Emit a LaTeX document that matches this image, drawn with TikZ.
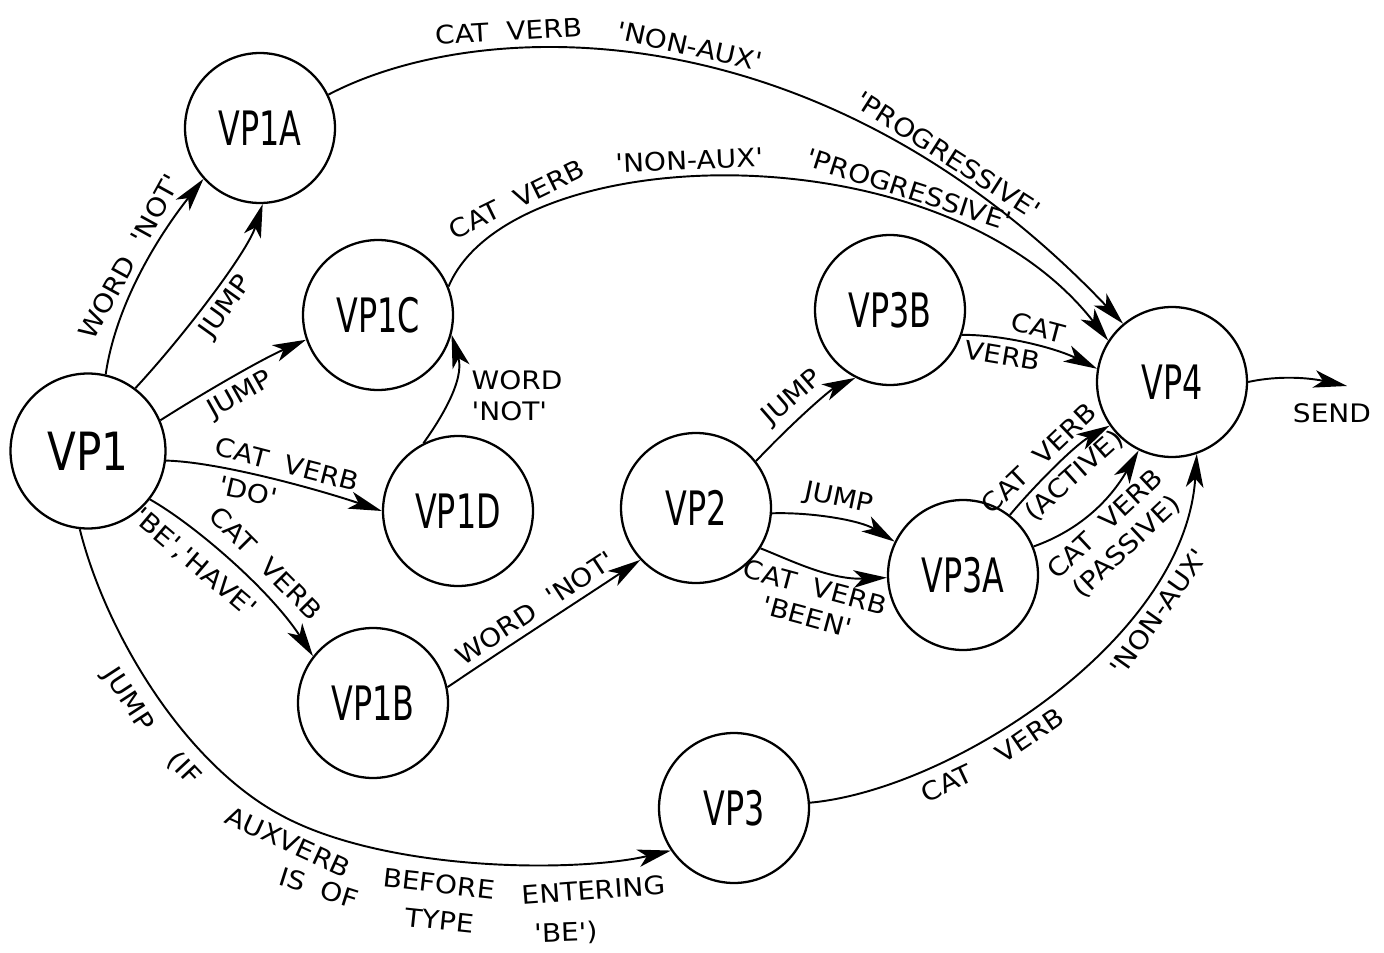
\documentclass[tikz,border=0pt]{standalone}
\usepackage{fontspec}
\usetikzlibrary{arrows.meta}
\newfontfamily\edgefam[FakeStretch=1.1,WordSpace=2]{DejaVu Sans}
\newfontfamily\nodefamA[FakeStretch=0.67]{DejaVu Sans}
\newfontfamily\nodefamB[FakeStretch=0.8]{DejaVu Sans}
\newcommand{\edgefont}{\edgefam\fontsize{14.5}{17.5}\selectfont}
\begin{document}
\begin{tikzpicture}[x=0.02cm,y=-0.02cm,
  st/.style={circle,draw,line width=1.3pt,minimum size=3cm,inner sep=0pt,font=\nodefamA\fontsize{27}{30}\selectfont},
  arr/.style={line width=1.1pt,-{Stealth[length=19pt,width=10pt,inset=5pt]}},
  lab/.style={font=\edgefont,inner sep=1pt,sloped}
]
\useasboundingbox (0,0) rectangle (1384,953);
% states
\node[st,minimum size=3.1cm,font=\nodefamB\fontsize{30}{32}\selectfont] (vp1) at (88,451) {VP1};
\node[st] (vp1a) at (260,128) {VP1A};
\node[st] (vp1c) at (378,315) {VP1C};
\node[st] (vp1d) at (458,511) {VP1D};
\node[st] (vp1b) at (373,703) {VP1B};
\node[st] (vp2) at (696,508) {VP2};
\node[st] (vp3b) at (890,310) {VP3B};
\node[st] (vp3a) at (963,575) {VP3A};
\node[st] (vp4) at (1172,382) {VP4};
\node[st] (vp3) at (734,808) {VP3};
\coordinate (sendend) at (1347,386);
\node[font=\edgefont] (send) at (1332,413) {SEND};
% arcs
\draw[arr] (vp1.77) .. controls (117,297) and (166,226) .. (vp1a.222)
  node[lab,pos=.5,above=3pt]{WORD 'NOT'};
\draw[arr] (vp1.53) .. controls (182,338) and (247,253) .. (vp1a.272)
  node[lab,pos=.5,below=3pt]{JUMP};
\draw[arr] (vp1.23) .. controls (200,395) and (260,360) .. (vp1c.199)
  node[lab,pos=.5,below=3pt]{JUMP};
\draw[arr] (vp1.353) .. controls (220,462) and (320,490) .. (vp1d.180)
  node[lab,pos=.55,above=3pt]{CAT VERB} node[lab,pos=.42,below=3pt]{'DO'};
\draw[arr] (vp1.322) .. controls (195,525) and (270,590) .. (vp1b.142)
  node[lab,pos=.6,above=6pt]{CAT VERB} node[lab,pos=.38,below=7pt]{'BE','HAVE'};
\draw[arr] (vp1.264) .. controls (105,630) and (181,759) .. (277,813)
  node[lab,pos=.49,below=7pt]{JUMP}
  node[lab,pos=.72,below=6pt]{(IF}
  .. controls (381,872) and (575,873) .. (vp3.214)
  node[lab,pos=.06,below=5pt]{AUXVERB}
  node[lab,pos=.42,below=7pt]{BEFORE}
  node[lab,pos=.77,below=9pt]{ENTERING}
  node[lab,pos=.165,below=23pt]{IS OF}
  node[lab,pos=.43,below=28pt]{TYPE}
  node[lab,pos=.7,below=32pt]{'BE')};
\draw[arr] (vp1d.117) .. controls (440,420) and (465,380) .. (vp1c.345);
\node[font=\edgefont,align=left] (l7) at (517,396) {WORD\\'NOT'};
\draw[arr] (vp1a.26) .. controls (480,15) and (820,5) .. (vp4.130)
  node[lab,pos=.3,above=3pt]{CAT VERB}
  node[lab,pos=.52,above=3pt]{'NON-AUX'}
  node[lab,pos=.8,above=3pt]{'PROGRESSIVE'};
\draw[arr] (vp1c.22) .. controls (510,140) and (940,125) .. (vp4.147)
  node[lab,pos=.2,above=3pt]{CAT VERB}
  node[lab,pos=.44,above=3pt]{'NON-AUX'}
  node[lab,pos=.7,above=3pt]{'PROGRESSIVE'};
\draw[arr] (vp1b.12) .. controls (510,645) and (580,600) .. (vp2.223)
  node[lab,pos=.5,above=3pt]{WORD 'NOT'};
\draw[arr] (vp2.38) .. controls (795,420) and (830,390) .. (vp3b.243)
  node[lab,pos=.45,above=3pt]{JUMP};
\draw[arr] (vp2.356) .. controls (810,512) and (860,520) .. (vp3a.154)
  node[lab,pos=.5,above=3pt]{JUMP};
\draw[arr] (vp2.328) .. controls (790,560) and (830,580) .. (vp3a.182)
  node[lab,pos=.55,below=3pt,align=center]{CAT VERB\\'BEEN'};
\draw[arr] (vp3b.341) .. controls (1010,335) and (1060,350) .. (vp4.170)
  node[lab,pos=.5,above=3pt]{CAT} node[lab,pos=.3,below=3pt]{VERB};
\draw[arr] (vp3a.52) .. controls (1035,485) and (1075,445) .. (vp4.215)
  node[lab,pos=.45,above=3pt]{CAT VERB} node[lab,pos=.55,below=3pt]{(ACTIVE)};
\draw[arr] (vp3a.22) .. controls (1080,530) and (1110,500) .. (vp4.244)
  node[lab,pos=.5,below=3pt,align=center]{CAT VERB\\(PASSIVE)};
\draw[arr] (vp3.4) .. controls (950,790) and (1185,640) .. (vp4.289)
  node[lab,pos=.27,below=5pt]{CAT}
  node[lab,pos=.43,below=5pt]{VERB}
  node[lab,pos=.72,below=5pt]{'NON-AUX'};
\draw[arr] (vp4.0) .. controls (1280,375) and (1310,378) .. (sendend);
\end{tikzpicture}
\end{document}
